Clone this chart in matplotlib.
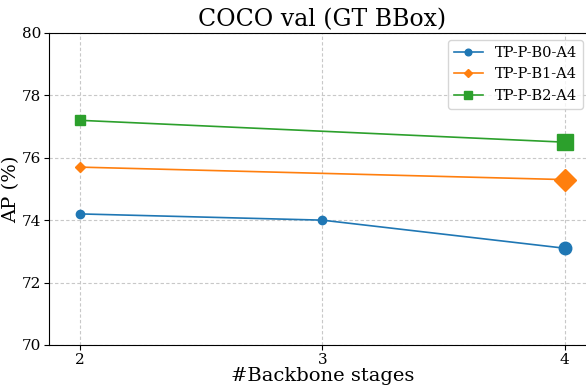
import matplotlib
matplotlib.use('Agg')
import matplotlib.pyplot as plt

plt.rcParams['font.family'] = 'DejaVu Serif'

# data
stages_b0 = [2, 3, 4]
ap_b0 = [74.2, 74.0, 73.1]
stages_b1 = [2, 4]
ap_b1 = [75.7, 75.3]
stages_b2 = [2, 4]
ap_b2 = [77.2, 76.5]

fig = plt.figure(figsize=(5.86, 3.88), dpi=100)
ax = fig.add_axes([0.0836, 0.111, 0.933, 0.804])

series = [
    ('TP-P-B0-A4', stages_b0, ap_b0, 'o', 'tab:blue', 6, 9),
    ('TP-P-B1-A4', stages_b1, ap_b1, 'D', 'tab:orange', 5.5, 11),
    ('TP-P-B2-A4', stages_b2, ap_b2, 's', 'tab:green', 6.5, 12),
]
for name, xs, ys, mk, col, small, big in series:
    ax.plot(xs, ys, marker=mk, color=col, markersize=small,
            linewidth=1.2, label=name)
    # last point drawn larger
    ax.plot(xs[-1:], ys[-1:], marker=mk, color=col, markersize=big, linestyle='none')

ax.set_xlim(1.872, 4.128)
ax.set_ylim(70, 80)
ax.set_xticks([2, 3, 4])
ax.set_yticks([70, 72, 74, 76, 78, 80])
ax.tick_params(labelsize=11, pad=2)
ax.grid(True, linestyle=(0, (3, 2)), color='#c8c8c8', linewidth=0.8)
ax.set_xlabel('#Backbone stages', fontsize=14, labelpad=0)
ax.set_ylabel('AP (%)', fontsize=14, labelpad=1)
ax.set_title('COCO val (GT BBox)', fontsize=17, pad=5)
leg = ax.legend(loc='upper right', fontsize=10.5, markerscale=0.8,
                bbox_to_anchor=(590 / 586, 1 - 33 / 388), bbox_transform=fig.transFigure)

fig.savefig('out.png', dpi=100)
